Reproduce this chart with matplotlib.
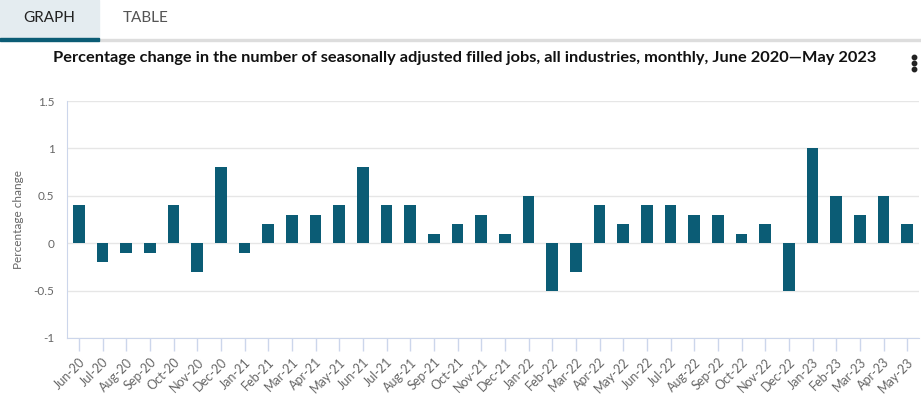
import matplotlib.pyplot as plt
from matplotlib.patches import Rectangle
from matplotlib.lines import Line2D

months = ['Jun-20', 'Jul-20', 'Aug-20', 'Sep-20', 'Oct-20', 'Nov-20', 'Dec-20',
          'Jan-21', 'Feb-21', 'Mar-21', 'Apr-21', 'May-21', 'Jun-21', 'Jul-21',
          'Aug-21', 'Sep-21', 'Oct-21', 'Nov-21', 'Dec-21', 'Jan-22', 'Feb-22',
          'Mar-22', 'Apr-22', 'May-22', 'Jun-22', 'Jul-22', 'Aug-22', 'Sep-22',
          'Oct-22', 'Nov-22', 'Dec-22', 'Jan-23', 'Feb-23', 'Mar-23', 'Apr-23',
          'May-23']
pct_change = [0.4, -0.2, -0.1, -0.1, 0.4, -0.3, 0.8,
              -0.1, 0.2, 0.3, 0.3, 0.4, 0.8, 0.4,
              0.4, 0.1, 0.2, 0.3, 0.1, 0.5, -0.5,
              -0.3, 0.4, 0.2, 0.4, 0.4, 0.3, 0.3,
              0.1, 0.2, -0.5, 1.0, 0.5, 0.3, 0.5,
              0.2]
y_ticks = [-1, -0.5, 0, 0.5, 1, 1.5]

title = ('Percentage change in the number of seasonally adjusted filled jobs, '
         'all industries, monthly, June 2020\u2014May 2023')

W, H = 921, 398
plt.rcParams['font.family'] = ['Lato', 'DejaVu Sans']

fig = plt.figure(figsize=(W / 100, H / 100), dpi=100)

# tab header
fig.patches.append(Rectangle((0, 1 - 38 / H), 99 / W, 38 / H, transform=fig.transFigure,
                             color='#e4ecf0', zorder=0))
fig.patches.append(Rectangle((99 / W, 1 - 41 / H), 1 - 99 / W, 1.5 / H, transform=fig.transFigure,
                             color='#dddddd', zorder=1))
fig.patches.append(Rectangle((0, 1 - 41 / H), 99 / W, 3 / H, transform=fig.transFigure,
                             color='#0b5c75', zorder=2))
fig.text(49 / W, 1 - 18 / H, 'GRAPH', ha='center', va='center', fontsize=11, color='#222222')
fig.text(146 / W, 1 - 18 / H, 'TABLE', ha='center', va='center', fontsize=11, color='#555555')

fig.text(465 / W, 1 - 58 / H, title, ha='center', va='center', fontsize=11.75,
         fontweight='bold', color='#111111')
# menu icon (three dots)
fig.add_artist(Line2D([914 / W] * 3, [1 - 57 / H, 1 - 63 / H, 1 - 69 / H],
                      transform=fig.transFigure, linestyle='none', marker='o',
                      markersize=3.2, color='#222222'))

ax = fig.add_axes([67 / W, (H - 338) / H, (919 - 67) / W, (338 - 101) / H])
x = range(len(months))
ax.bar(x, pct_change, width=0.48, color='#0b5c75', zorder=3)

ax.set_xlim(-0.5, len(months) - 0.5)
ax.set_ylim(-1, 1.5)
ax.set_yticks(y_ticks)
ax.set_yticklabels(['-1', '-0.5', '0', '0.5', '1', '1.5'])
ax.set_xticks(list(x))
ax.set_xticklabels(months, rotation=45, ha='right', rotation_mode='anchor')

ax.grid(axis='y', color='#e6e6e6', linewidth=1, zorder=0)
for s in ['top', 'right']:
    ax.spines[s].set_visible(False)
ax.spines['left'].set_color('#ccd6eb')
ax.spines['bottom'].set_color('#ccd6eb')
ax.tick_params(axis='y', length=0, pad=9, labelsize=8.5, labelcolor='#666666')
ax.tick_params(axis='x', length=9, width=1, color='#ccd6eb', pad=4,
               labelsize=9, labelcolor='#666666')
ax.set_ylabel('Percentage change', fontsize=8.5, color='#666666')
ax.yaxis.set_label_coords(-43 / 852, 0.5)

fig.savefig('out.png', dpi=100)
